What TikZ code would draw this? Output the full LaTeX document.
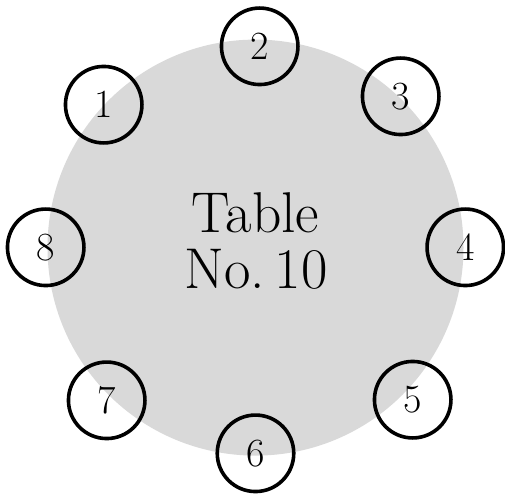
\documentclass[tikz,border=0pt]{standalone}
\definecolor{tablegray}{RGB}{217,217,217}
\begin{document}
\begin{tikzpicture}[x=1pt,y=-1pt,
  seat/.style={circle,draw=black,line width=3.6pt,minimum size=76.5pt,inner sep=0pt,
    font=\fontsize{40}{40}\selectfont},
  title/.style={anchor=base,inner sep=0pt,font=\fontsize{57.5}{57.5}\selectfont}]
\useasboundingbox (0,0) rectangle (505,494);
\fill[tablegray] (255.5,247.6) circle[radius=208];
\node[title] (t1) at (255.5,232.7) {Table};
\node[title] (t2) at (256,288.3) {No.\,10};
\node[seat] (s1) at (103.7,104.7) {1};
\node[seat] (s2) at (259.7,46.3) {2};
\node[seat] (s3) at (400.7,96.3) {3};
\node[seat] (s4) at (465.3,247.3) {4};
\node[seat] (s5) at (412.7,399.7) {5};
\node[seat] (s6) at (255.5,453.3) {6};
\node[seat] (s7) at (106.7,400.3) {7};
\node[seat] (s8) at (45.7,247.3) {8};
\end{tikzpicture}
\end{document}
